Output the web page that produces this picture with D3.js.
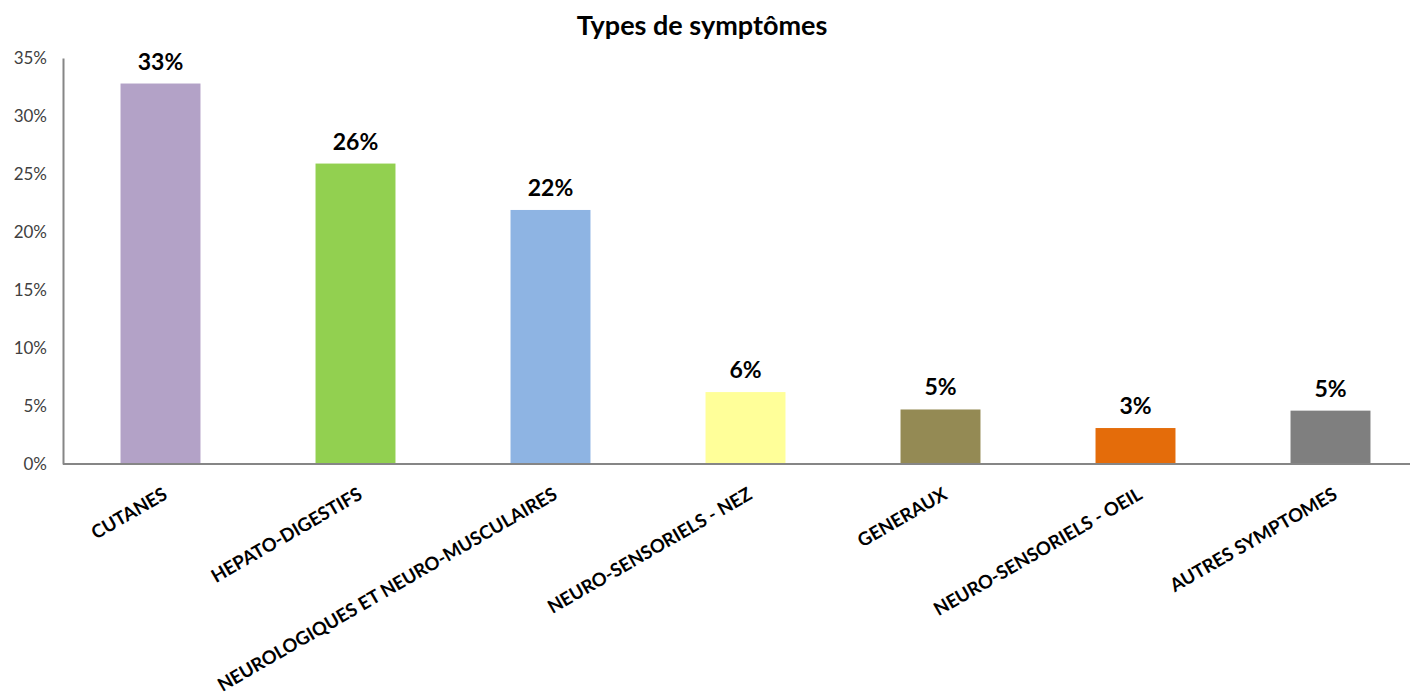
<!DOCTYPE html>
<html>
<head>
<meta charset="utf-8">
<script src="https://cdn.jsdelivr.net/npm/d3@7"></script>
<style>
  body { margin: 0; background: #fff; }
</style>
</head>
<body>
<div id="chart"></div>
<script>
// data
const categories = [
  "CUTANES",
  "HEPATO-DIGESTIFS",
  "NEUROLOGIQUES ET NEURO-MUSCULAIRES",
  "NEURO-SENSORIELS - NEZ",
  "GENERAUX",
  "NEURO-SENSORIELS - OEIL",
  "AUTRES SYMPTOMES",
];
const values = [0.328, 0.259, 0.219, 0.062, 0.047, 0.031, 0.046];
const barColors = ["#B3A2C7", "#92D050", "#8EB4E3", "#FFFF99", "#948A54", "#E46C0A", "#7F7F7F"];
const yTicks = [0, 0.05, 0.1, 0.15, 0.2, 0.25, 0.3, 0.35];

const width = 1410;
const height = 698;
const margin = { top: 58, right: -18, bottom: 234, left: 63 };
const fontFamily = "Lato, 'Open Sans', sans-serif";

const svg = d3
  .select("#chart")
  .append("svg")
  .attr("width", width)
  .attr("height", height)
  .style("font-family", fontFamily);

const x = d3
  .scaleBand()
  .domain(categories)
  .range([margin.left, width - margin.right])
  .paddingInner(0.59)
  .paddingOuter(0.295);

const y = d3
  .scaleLinear()
  .domain([0, 0.35])
  .range([height - margin.bottom, margin.top]);

// title
svg
  .append("text")
  .attr("x", 702)
  .attr("y", 35)
  .attr("text-anchor", "middle")
  .style("font-size", "27px")
  .style("font-weight", "bold")
  .style("fill", "#000")
  .text("Types de symptômes");

// y axis
const yAxis = svg
  .append("g")
  .attr("transform", `translate(${margin.left},0)`)
  .call(
    d3.axisLeft(y)
      .tickValues(yTicks)
      .tickSize(0)
      .tickPadding(16)
      .tickFormat(d3.format(".0%"))
  );
yAxis.select(".domain").attr("stroke", "#868686").attr("stroke-width", 2);
yAxis
  .selectAll("text")
  .style("font-family", fontFamily)
  .style("font-size", "17px")
  .style("fill", "#404040");

// bars
svg
  .selectAll(".bar")
  .data(values)
  .enter()
  .append("rect")
  .attr("class", "bar")
  .attr("x", (d, i) => x(categories[i]))
  .attr("y", (d) => y(d))
  .attr("width", x.bandwidth())
  .attr("height", (d) => y(0) - y(d))
  .attr("fill", (d, i) => barColors[i]);

// value labels
svg
  .selectAll(".value")
  .data(values)
  .enter()
  .append("text")
  .attr("class", "value")
  .attr("x", (d, i) => x(categories[i]) + x.bandwidth() / 2)
  .attr("y", (d) => y(d) - 14)
  .attr("text-anchor", "middle")
  .style("font-size", "23px")
  .style("font-weight", "bold")
  .style("fill", "#000")
  .text((d) => d3.format(".0%")(d));

// x axis
const xAxis = svg
  .append("g")
  .attr("transform", `translate(0,${y(0)})`)
  .call(d3.axisBottom(x).tickSize(0).tickPadding(0));
xAxis
  .select(".domain")
  .attr("stroke", "#868686")
  .attr("stroke-width", 2)
  .attr("d", `M${margin.left},0H${width + 30}`);
xAxis
  .selectAll("text")
  .attr("text-anchor", "end")
  .attr("dy", null)
  .attr("y", 0)
  .attr("transform", "translate(8,34) rotate(-30)")
  .style("font-family", fontFamily)
  .style("font-size", "18.5px")
  .style("font-weight", "bold")
  .style("fill", "#000");
</script>
</body>
</html>
